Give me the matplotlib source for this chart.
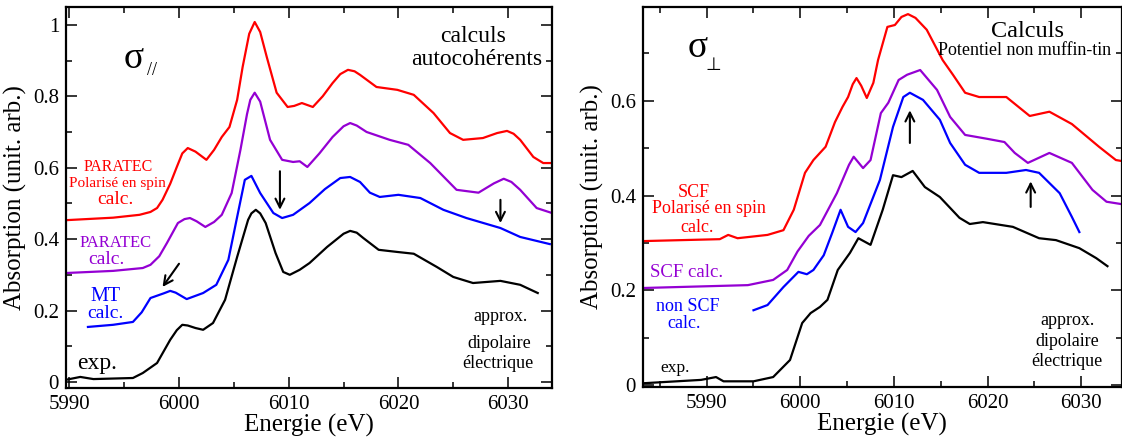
"""Spectres d'absorption XANES: sigma parallele et sigma perpendiculaire"""

import matplotlib
matplotlib.use("Agg")
import matplotlib.pyplot as plt
from matplotlib.ticker import MultipleLocator

plt.rcParams["font.family"] = ["Liberation Serif", "DejaVu Sans"]

RED = "#ff0000"
VIOLET = "#9400d3"
BLUE = "#0000ff"
BLACK = "#000000"

# === sigma // : donnees (E en eV, absorption) ===
par_red_e = [5989.7, 5994.0, 5996.4, 5997.4, 5998.0, 5998.5, 5999.2, 5999.8, 6000.3,
             6000.8, 6001.5, 6002.5, 6003.2, 6003.9, 6004.6, 6005.3, 6005.8, 6006.4,
             6006.9, 6007.4, 6008.0, 6008.9, 6009.9, 6010.5, 6011.2, 6012.2, 6013.1,
             6014.0, 6014.7, 6015.4, 6016.0, 6016.5, 6018.0, 6019.9, 6021.4, 6023.2,
             6024.7, 6025.9, 6027.7, 6029.0, 6029.9, 6030.5, 6031.1, 6032.3, 6033.2,
             6034.0]
par_red_a = [0.453, 0.460, 0.468, 0.476, 0.487, 0.510, 0.555, 0.602, 0.640,
             0.655, 0.645, 0.622, 0.650, 0.686, 0.714, 0.790, 0.882, 0.975,
             1.008, 0.980, 0.910, 0.810, 0.770, 0.773, 0.781, 0.770, 0.800,
             0.837, 0.862, 0.874, 0.870, 0.860, 0.826, 0.818, 0.804, 0.753,
             0.697, 0.678, 0.683, 0.697, 0.703, 0.695, 0.678, 0.630, 0.613,
             0.613]

par_vio_e = [5989.7, 5994.0, 5996.7, 5997.4, 5998.2, 5998.9, 5999.9, 6000.5, 6001.0,
             6001.6, 6002.4, 6003.2, 6003.9, 6004.8, 6005.6, 6006.2, 6006.5, 6006.9,
             6007.4, 6008.3, 6009.4, 6010.4, 6011.0, 6011.7, 6012.8, 6014.0, 6015.0,
             6015.6, 6016.2, 6017.1, 6019.2, 6020.9, 6022.9, 6025.3, 6027.3, 6028.7,
             6029.6, 6030.3, 6031.1, 6032.6, 6034.0]
par_vio_a = [0.305, 0.311, 0.319, 0.328, 0.352, 0.389, 0.445, 0.456, 0.459,
             0.450, 0.434, 0.448, 0.468, 0.529, 0.650, 0.750, 0.790, 0.810,
             0.785, 0.678, 0.622, 0.616, 0.618, 0.602, 0.640, 0.686, 0.716,
             0.725, 0.718, 0.700, 0.678, 0.664, 0.613, 0.538, 0.530, 0.556,
             0.569, 0.560, 0.538, 0.487, 0.473]

par_blue_e = [5991.7, 5994.0, 5995.8, 5996.6, 5997.4, 5998.6, 5999.2, 5999.7, 6000.7,
              6002.2, 6003.4, 6004.5, 6005.3, 6006.0, 6006.6, 6007.4, 6008.6, 6009.4,
              6010.4, 6011.9, 6013.3, 6014.7, 6015.6, 6016.5, 6017.4, 6018.3, 6020.0,
              6022.0, 6024.1, 6026.2, 6029.3, 6031.1, 6033.8]
par_blue_a = [0.154, 0.160, 0.168, 0.195, 0.235, 0.248, 0.255, 0.250, 0.232,
              0.249, 0.272, 0.342, 0.462, 0.566, 0.577, 0.529, 0.473, 0.459,
              0.468, 0.501, 0.540, 0.571, 0.574, 0.560, 0.530, 0.518, 0.524,
              0.515, 0.482, 0.459, 0.431, 0.406, 0.386]

par_exp_e = [5989.7, 5991.0, 5992.2, 5995.8, 5996.7, 5998.0, 5999.2, 5999.8, 6000.3,
             6000.8, 6001.5, 6002.2, 6003.1, 6004.2, 6005.3, 6006.3, 6006.6, 6007.0,
             6007.4, 6007.9, 6008.8, 6009.5, 6010.1, 6011.0, 6011.9, 6013.5, 6015.0,
             6015.6, 6016.2, 6016.8, 6018.2, 6019.9, 6021.4, 6023.5, 6025.0, 6026.8,
             6029.3, 6031.1, 6032.7]
par_exp_a = [0.006, 0.014, 0.008, 0.011, 0.025, 0.053, 0.118, 0.145, 0.160,
             0.158, 0.151, 0.146, 0.165, 0.230, 0.350, 0.454, 0.472, 0.482,
             0.472, 0.445, 0.361, 0.308, 0.300, 0.314, 0.333, 0.378, 0.415,
             0.423, 0.418, 0.403, 0.370, 0.364, 0.359, 0.322, 0.294, 0.277,
             0.283, 0.272, 0.249]

# === sigma perp ===
perp_red_e = [5983.3, 5991.4, 5992.3, 5993.3, 5996.5, 5998.2, 5999.3, 6000.5, 6001.4,
              6002.7, 6003.7, 6004.5, 6005.1, 6005.6, 6006.0, 6006.5, 6007.1, 6007.8,
              6008.3, 6009.3, 6010.1, 6010.8, 6011.5, 6012.3, 6013.5, 6015.2, 6016.3,
              6017.6, 6019.1, 6022.0, 6024.5, 6026.6, 6029.0, 6031.9, 6033.7, 6034.3]
perp_red_a = [0.304, 0.308, 0.317, 0.310, 0.317, 0.327, 0.370, 0.448, 0.475,
              0.503, 0.555, 0.587, 0.608, 0.635, 0.648, 0.632, 0.606, 0.638,
              0.686, 0.756, 0.760, 0.777, 0.783, 0.775, 0.750, 0.686, 0.655,
              0.617, 0.608, 0.608, 0.568, 0.577, 0.551, 0.503, 0.475, 0.473]

perp_vio_e = [5983.3, 5994.4, 5997.1, 5998.6, 5999.7, 6000.9, 6002.1, 6003.9, 6005.2,
              6005.7, 6006.2, 6006.7, 6007.5, 6008.6, 6009.4, 6010.5, 6011.4, 6012.8,
              6014.6, 6016.0, 6017.6, 6019.9, 6021.8, 6022.9, 6024.3, 6026.6, 6029.0,
              6031.2, 6032.7, 6034.3]
perp_vio_a = [0.205, 0.211, 0.222, 0.243, 0.282, 0.315, 0.338, 0.405, 0.465,
              0.482, 0.470, 0.458, 0.475, 0.574, 0.596, 0.644, 0.655, 0.665,
              0.623, 0.566, 0.528, 0.520, 0.513, 0.490, 0.469, 0.490, 0.469,
              0.412, 0.387, 0.382]

perp_blue_e = [5995.0, 5996.5, 5998.2, 5999.8, 6000.7, 6001.4, 6002.5, 6003.4, 6004.3,
               6005.1, 6005.9, 6006.7, 6008.5, 6009.9, 6011.0, 6011.7, 6013.1, 6014.9,
               6016.0, 6017.6, 6019.1, 6022.0, 6024.1, 6025.5, 6027.7, 6029.0, 6029.8]
perp_blue_a = [0.158, 0.169, 0.207, 0.239, 0.234, 0.243, 0.274, 0.321, 0.370,
               0.334, 0.323, 0.342, 0.433, 0.545, 0.608, 0.617, 0.602, 0.560,
               0.511, 0.465, 0.448, 0.448, 0.454, 0.448, 0.405, 0.355, 0.323]

perp_exp_e = [5983.3, 5989.4, 5991.0, 5991.8, 5995.0, 5997.1, 5998.9, 5999.6, 6000.2,
              6001.1, 6002.1, 6002.9, 6004.0, 6005.3, 6006.2, 6007.5, 6008.8, 6009.9,
              6010.8, 6012.0, 6013.3, 6014.9, 6017.0, 6018.1, 6019.5, 6022.7, 6025.5,
              6027.3, 6029.8, 6031.6, 6032.8]
perp_exp_a = [0.004, 0.011, 0.017, 0.008, 0.008, 0.017, 0.053, 0.095, 0.131,
              0.152, 0.165, 0.180, 0.243, 0.279, 0.310, 0.296, 0.370, 0.443,
              0.439, 0.452, 0.418, 0.397, 0.353, 0.340, 0.344, 0.334, 0.310,
              0.306, 0.289, 0.268, 0.251]


def style_axis(ax, xlim, ylim, ymajor):
    ax.set_xlim(*xlim)
    ax.set_ylim(*ylim)
    ax.xaxis.set_major_locator(MultipleLocator(10))
    ax.xaxis.set_minor_locator(MultipleLocator(5))
    ax.yaxis.set_major_locator(MultipleLocator(ymajor))
    ax.yaxis.set_minor_locator(MultipleLocator(ymajor / 2))
    ax.tick_params(which="both", direction="in", top=True, right=True,
                   labelsize=15, width=1.1, pad=5)
    ax.tick_params(which="major", length=8)
    ax.tick_params(which="minor", length=4)
    for sp in ax.spines.values():
        sp.set_linewidth(1.6)
    ax.set_xlabel("Energie (eV)", fontsize=18, labelpad=0)
    ax.set_ylabel("Absorption (unit. arb.)", fontsize=18, labelpad=4)
    ax.yaxis.set_major_formatter(plt.FuncFormatter(lambda v, p: f"{v:g}"))


def arrow(ax, x0, y0, x1, y1):
    ax.annotate("", xy=(x1, y1), xytext=(x0, y0),
                arrowprops=dict(arrowstyle="->", lw=1.5, color="black",
                                mutation_scale=16, shrinkA=0, shrinkB=0))


fig = plt.figure(figsize=(11.22, 4.40), dpi=100)
ax1 = fig.add_axes([66 / 1122, 52 / 440, 486 / 1122, 381 / 440])
ax2 = fig.add_axes([643 / 1122, 53 / 440, 478.5 / 1122, 380 / 440])

# === (a) sigma // ===
lw = 1.6
for e, a, c in [(par_red_e, par_red_a, RED), (par_vio_e, par_vio_a, VIOLET),
                (par_blue_e, par_blue_a, BLUE), (par_exp_e, par_exp_a, BLACK)]:
    ax1.plot(e, a, color=c, lw=lw, solid_joinstyle="round")
style_axis(ax1, (5989.7, 6034.0), (-0.017, 1.05), 0.2)

ax1.text(5995.9, 0.905, "σ", fontsize=27, ha="center", va="center")
ax1.text(5997.5, 0.872, "//", fontsize=13, ha="center", va="center")
ax1.text(6026.8, 0.966, "calculs", fontsize=17, ha="center", va="center")
ax1.text(6027.1, 0.902, "autocohérents", fontsize=17, ha="center", va="center")

ax1.text(5994.5, 0.602, "PARATEC", fontsize=11.5, color=RED, ha="center", va="center")
ax1.text(5994.4, 0.557, "Polarisé en spin", fontsize=11, color=RED, ha="center", va="center")
ax1.text(5994.2, 0.510, "calc.", fontsize=14, color=RED, ha="center", va="center")
ax1.text(5994.2, 0.389, "PARATEC", fontsize=12, color=VIOLET, ha="center", va="center")
ax1.text(5993.4, 0.342, "calc.", fontsize=14, color=VIOLET, ha="center", va="center")
ax1.text(5993.3, 0.240, "MT", fontsize=14.5, color=BLUE, ha="center", va="center")
ax1.text(5993.3, 0.193, "calc.", fontsize=14, color=BLUE, ha="center", va="center")
ax1.text(5992.5, 0.053, "exp.", fontsize=17, ha="center", va="center")

ax1.text(6029.3, 0.182, "approx.", fontsize=13, ha="center", va="center")
ax1.text(6029.2, 0.109, "dipolaire", fontsize=13, ha="center", va="center")
ax1.text(6029.1, 0.053, "électrique", fontsize=13, ha="center", va="center")

arrow(ax1, 6009.2, 0.590, 6009.2, 0.482)
arrow(ax1, 6029.3, 0.510, 6029.3, 0.445)
arrow(ax1, 6000.0, 0.331, 5998.5, 0.266)

# === (b) sigma perp ===
for e, a, c in [(perp_red_e, perp_red_a, RED), (perp_vio_e, perp_vio_a, VIOLET),
                (perp_blue_e, perp_blue_a, BLUE), (perp_exp_e, perp_exp_a, BLACK)]:
    ax2.plot(e, a, color=c, lw=lw, solid_joinstyle="round")
style_axis(ax2, (5983.2, 6034.3), (-0.004, 0.798), 0.2)

ax2.text(5989.0, 0.712, "σ", fontsize=27, ha="center", va="center")
ax2.text(5990.7, 0.675, "⊥", fontsize=13, ha="center", va="center",
         family=["DejaVu Sans"])
ax2.text(6024.3, 0.746, "Calculs", fontsize=17.5, ha="center", va="center")
ax2.text(6014.7, 0.707, "Potentiel non muffin-tin", fontsize=13, ha="left",
         va="center", clip_on=False)

ax2.text(5988.6, 0.406, "SCF", fontsize=13, color=RED, ha="center", va="center")
ax2.text(5990.2, 0.372, "Polarisé en spin", fontsize=13, color=RED, ha="center", va="center")
ax2.text(5989.0, 0.332, "calc.", fontsize=13, color=RED, ha="center", va="center")
ax2.text(5987.9, 0.237, "SCF calc.", fontsize=13.5, color=VIOLET, ha="center", va="center")
ax2.text(5988.0, 0.165, "non SCF", fontsize=13, color=BLUE, ha="center", va="center")
ax2.text(5987.6, 0.130, "calc.", fontsize=13, color=BLUE, ha="center", va="center")
ax2.text(5986.6, 0.036, "exp.", fontsize=12.5, ha="center", va="center")

ax2.text(6028.5, 0.137, "approx.", fontsize=13, ha="center", va="center")
ax2.text(6028.5, 0.093, "dipolaire", fontsize=13, ha="center", va="center")
ax2.text(6028.5, 0.049, "électrique", fontsize=13, ha="center", va="center")

arrow(ax2, 6011.7, 0.511, 6011.7, 0.580)
arrow(ax2, 6024.6, 0.376, 6024.6, 0.430)

fig.savefig("out.png", dpi=100)
plt.close(fig)
